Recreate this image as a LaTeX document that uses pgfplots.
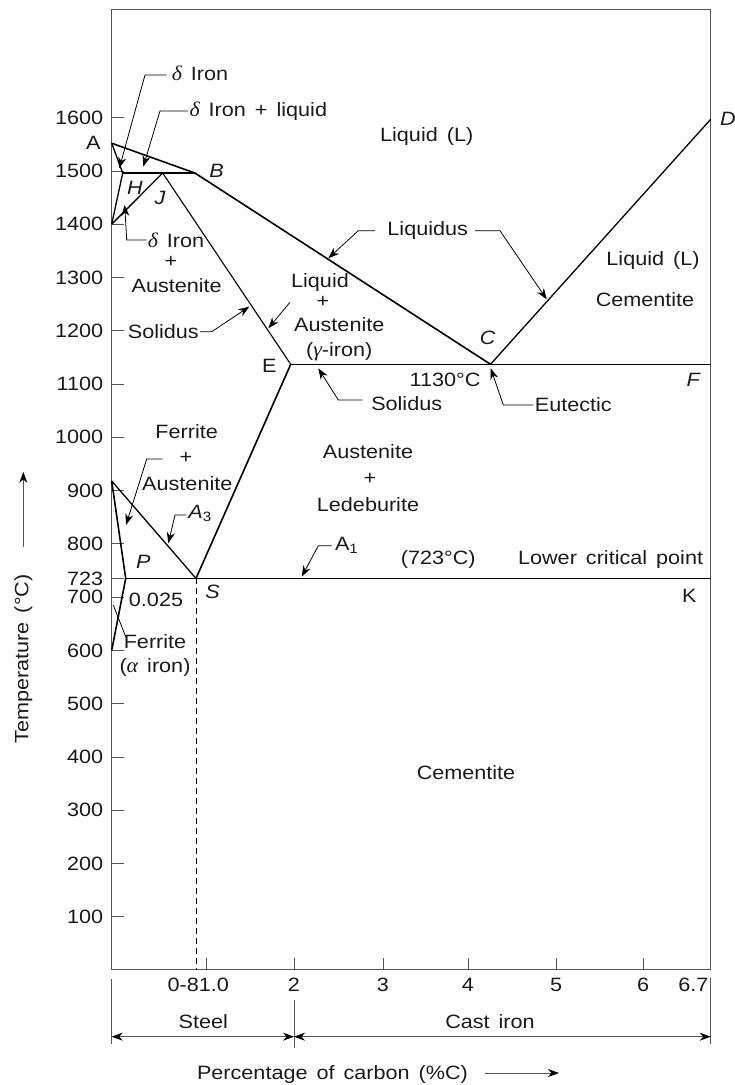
\documentclass[border=0pt]{standalone}
\usepackage{fontspec}
\setmainfont{Liberation Sans}[FakeStretch=1.12,WordSpace=1.5]
\newfontfamily\grk{Liberation Serif}[FakeStretch=1.05,Scale=1.08]
\newcommand{\gl}[1]{{\grk\itshape #1}}
\usepackage{pgfplots}
\pgfplotsset{compat=1.18}
\usetikzlibrary{arrows.meta}
\definecolor{txt}{HTML}{1A1A1A}
\definecolor{axgray}{HTML}{555555}
\tikzset{
  ar/.style={line width=0.8bp,-{Stealth[length=11bp,width=8bp,inset=3.5bp]}},
  ph/.style={line width=1.3bp,black},
  lbl/.style={inner sep=0pt,text=txt}
}
\begin{document}
\begin{tikzpicture}[font=\fontsize{19.3bp}{22bp}\selectfont]
\begin{axis}[
  x=1bp, y=0.5327bp,
  xmin=111.7, xmax=710.7, ymin=0, ymax=1802.2,
  clip=false,
  axis line style={axgray,line width=1bp},
  tick align=inside, major tick length=12bp,
  xtick pos=bottom, ytick pos=left,
  tick style={axgray,line width=0.8bp},
  /pgf/number format/assume math mode=true,
  ticklabel style={text=txt,font=\fontsize{19.3bp}{22bp}\selectfont},
  xtick={206,294,383,468,556,643},
  xticklabels={,2,3,4,5,6},
  xticklabel style={yshift=-5bp},
  ytick={100,200,300,400,500,600,700,735,800,900,1000,1100,1200,1300,1400,1500,1600},
  yticklabels={100,200,300,400,500,600,700,723,800,900,1000,1100,1200,1300,1400,1500,1600},
  yticklabel style={xshift=-5bp},
]
% ---- phase boundaries (x: drawing position, y: temperature in deg C)
\addplot[ph,line width=1.6bp] coordinates {(111.7,1552) (195,1496) (490.5,1137)};   % A-B-C liquidus
\addplot[ph] coordinates {(490.5,1137) (710.7,1597)};                               % C-D liquidus
\addplot[ph,line width=1.6bp] coordinates {(122.7,1496) (195,1496)};                % H-J-B
\addplot[ph] coordinates {(111.7,1552) (122.7,1496) (111.7,1400)};                  % A-H-N
\addplot[ph] coordinates {(162.7,1496) (111.7,1400)};                               % J-N
\addplot[ph,line width=1.1bp] coordinates {(162.7,1496) (290.7,1137)};              % J-E solidus
\addplot[ph] coordinates {(290.7,1137) (710.7,1137)};                               % E-C-F
\addplot[ph,line width=1.6bp] coordinates {(290.7,1137) (196,735)};                 % E-S
\addplot[ph] coordinates {(111.7,918) (196,735)};                                   % G-S (A3)
\addplot[ph,line width=1.6bp] coordinates {(111.7,918) (125.7,735) (111.7,600)};    % G-P-Q
\addplot[ph] coordinates {(125.7,735) (710.7,735)};                                 % P-S-K (A1)
\addplot[black,line width=0.9bp,dash pattern=on 6bp off 4bp] coordinates {(196,735) (196,0)};

% ---- point letters
\node[lbl] at (axis cs:93.3,1552) {A};
\node[lbl] at (axis cs:216.7,1500) {\itshape B};
\node[lbl] at (axis cs:135,1468.5) {\itshape H};
\node[lbl] at (axis cs:160,1448.6) {\itshape J};
\node[lbl] at (axis cs:728,1597) {\itshape D};
\node[lbl] at (axis cs:487.7,1185.8) {\itshape C};
\node[lbl] at (axis cs:269.3,1133.8) {E};
\node[lbl] at (axis cs:693.3,1107.5) {\itshape F};
\node[lbl] at (axis cs:143.3,766.5) {\itshape P};
\node[lbl] at (axis cs:212.7,710.2) {\itshape S};
\node[lbl] at (axis cs:689.3,702.6) {K};

% ---- region labels
\node[lbl] at (axis cs:200,1683.3) {\gl{δ} Iron};
\node[lbl] at (axis cs:258.3,1612.5) {\gl{δ} Iron + liquid};
\node[lbl] at (axis cs:426.7,1564.3) {Liquid (L)};
\node[lbl] at (axis cs:176,1369) {\gl{δ} Iron};
\node[lbl] at (axis cs:171,1329.6) {+};
\node[lbl] at (axis cs:176.7,1284) {Austenite};
\node[lbl] at (axis cs:163.3,1198.2) {Solidus};
\node[lbl] at (axis cs:427.7,1387.8) {Liquidus};
\node[lbl] at (axis cs:320,1290.2) {Liquid};
\node[lbl] at (axis cs:323,1254.5) {+};
\node[lbl] at (axis cs:339.3,1210.8) {Austenite};
\node[lbl] at (axis cs:339.3,1160.7) {(\gl{γ}-iron)};
\node[lbl] at (axis cs:653,1331.5) {Liquid (L)};
\node[lbl] at (axis cs:645,1257.7) {Cementite};
\node[lbl] at (axis cs:445,1107.5) {1130°C};
\node[lbl] at (axis cs:406.7,1063.8) {Solidus};
\node[lbl] at (axis cs:573.3,1060.6) {Eutectic};
\node[lbl] at (axis cs:186.7,1010.5) {Ferrite};
\node[lbl] at (axis cs:186,960.6) {+};
\node[lbl] at (axis cs:187.3,912.3) {Austenite};
\node[lbl] at (axis cs:368,973) {Austenite};
\node[lbl] at (axis cs:370,921.1) {+};
\node[lbl] at (axis cs:368,872.9) {Ledeburite};
\node[lbl] at (axis cs:200,857.3) {{\itshape A}\textsubscript{3}};
\node[lbl] at (axis cs:346.7,797.8) {A\textsubscript{1}};
\node[lbl] at (axis cs:438.3,769.7) {(723°C)};
\node[lbl,anchor=east] at (axis cs:703.3,769.7) {Lower critical point};
\node[lbl] at (axis cs:156,694.6) {0.025};
\node[lbl] at (axis cs:155,616.3) {Ferrite};
\node[lbl] at (axis cs:155,567.5) {(\gl{α} iron)};
\node[lbl] at (axis cs:466,369.8) {Cementite};

% ---- leaders
\draw[ar] (axis cs:166.7,1680.1) -- (axis cs:145,1680.1) -- (axis cs:119.3,1505);
\draw[ar] (axis cs:188.3,1612.5) -- (axis cs:160,1612.5) -- (axis cs:143.3,1508);
\draw[ar] (axis cs:146.7,1370.4) -- (axis cs:126.7,1370.4) -- (axis cs:124.7,1436);
\draw[ar] (axis cs:200,1198.2) -- (axis cs:211.7,1198.2) -- (axis cs:249.3,1245.2);
\draw[ar] (axis cs:290,1253.4) -- (axis cs:268.3,1204.6);
\draw[ar] (axis cs:375,1387.8) -- (axis cs:358.3,1387.8) -- (axis cs:328.3,1336);
\draw[ar] (axis cs:475,1387.8) -- (axis cs:500,1387.8) -- (axis cs:546.7,1259);
\draw[ar] (axis cs:362.3,1070) -- (axis cs:338.3,1070) -- (axis cs:318.3,1129.5);
\draw[ar] (axis cs:533.3,1060.6) -- (axis cs:503.3,1060.6) -- (axis cs:490.7,1129.5);
\draw[ar] (axis cs:162.7,959.2) -- (axis cs:146.7,959.2) -- (axis cs:126,835.4);
\draw[ar] (axis cs:186,854.1) -- (axis cs:175,854.1) -- (axis cs:168.3,801);
\draw[ar] (axis cs:331.7,796.5) -- (axis cs:318.3,796.5) -- (axis cs:301.7,738.3);
\draw[line width=0.8bp] (axis cs:125.7,625.7) -- (axis cs:113.3,685.2);

% ---- bottom: extra tick labels, steel / cast iron ranges, axis title
\node[lbl] at (axis cs:198.3,-28.2) {0-81.0};
\node[lbl] at (axis cs:693.3,-28.2) {6.7};
\draw[axgray,line width=0.8bp] (axis cs:111.7,-16.9) -- (axis cs:111.7,-138.9);
\draw[axgray,line width=0.8bp] (axis cs:294,-56.3) -- (axis cs:294,-146.4);
\draw[axgray,line width=0.8bp] (axis cs:710.7,-15) -- (axis cs:710.7,-138.9);
\draw[axgray,line width=0.8bp,{Stealth[length=11bp,width=8bp,inset=3.5bp,black]}-{Stealth[length=11bp,width=8bp,inset=3.5bp,black]}] (axis cs:111.7,-125.2) -- (axis cs:294,-125.2);
\draw[axgray,line width=0.8bp,{Stealth[length=11bp,width=8bp,inset=3.5bp,black]}-{Stealth[length=11bp,width=8bp,inset=3.5bp,black]}] (axis cs:294,-125.2) -- (axis cs:710.7,-125.2);
\node[lbl] at (axis cs:203.3,-97.1) {Steel};
\node[lbl] at (axis cs:490,-97.6) {Cast iron};
\node[lbl] at (axis cs:332.5,-197.1) {Percentage of carbon (\%C)};
\draw[axgray,line width=0.8bp,-{Stealth[length=11bp,width=8bp,inset=3.5bp,black]}] (axis cs:485,-193.4) -- (axis cs:559,-193.4);
\node[lbl,rotate=90] at (axis cs:23.3,583.8) {Temperature (°C)};
\draw[axgray,line width=0.8bp,-{Stealth[length=11bp,width=8bp,inset=3.5bp,black]}] (axis cs:23.3,794) -- (axis cs:23.3,935);

\coordinate (bbll) at (axis cs:0,-215.9);
\coordinate (bbur) at (axis cs:734,1820.9);
\end{axis}
\pgfresetboundingbox
\path[use as bounding box] (bbll) rectangle (bbur);
\end{tikzpicture}
\end{document}
